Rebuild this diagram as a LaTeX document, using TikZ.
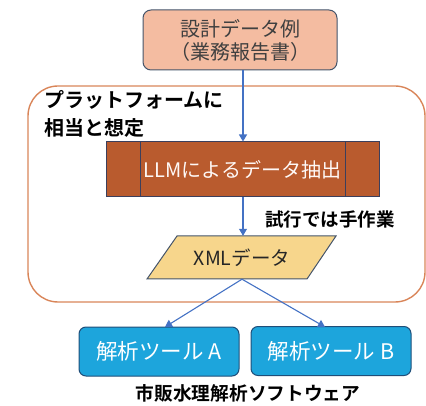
\documentclass[tikz,border=0pt]{standalone}
\usepackage{fontspec}
\newfontfamily\jp{Noto Sans CJK JP}
\newfontfamily\jpb{Noto Sans CJK JP Bold}
\usetikzlibrary{arrows.meta}
\definecolor{salmon}{HTML}{F4BCA1}
\definecolor{slate}{HTML}{44546A}
\definecolor{frameorange}{HTML}{D98559}
\definecolor{rust}{HTML}{B95B2E}
\definecolor{navy}{HTML}{3B3F5C}
\definecolor{sand}{HTML}{F7D68C}
\definecolor{toolblue}{HTML}{1DA5DC}
\definecolor{tooledge}{HTML}{1F4E79}
\definecolor{arrowblue}{HTML}{4472C4}
\tikzset{
  flow/.style={draw=arrowblue, line width=1.1pt, -{Triangle[length=7pt,width=8pt]}},
  toolbox/.style={draw=tooledge, line width=1pt, fill=toolblue, rounded corners=7pt,
    minimum width=160pt, minimum height=49pt, text=white, font=\jp\fontsize{21.5}{24}\selectfont},
  caption/.style={font=\jpb\fontsize{#1}{28}\selectfont, text=black},
  caption/.default=18.5
}
\begin{document}
\begin{tikzpicture}[x=1pt,y=-1pt]
\useasboundingbox (0,0) rectangle (426,406);
% platform frame
\draw[frameorange, line width=1.4pt, rounded corners=30pt] (28,86) rectangle (425,302);
\node[caption=20, anchor=west, align=left, inner sep=0pt] (plat) at (44,114) {プラットフォームに\\相当と想定};
% source document
\node[draw=slate, line width=1pt, fill=salmon, rounded corners=8pt,
  minimum width=194pt, minimum height=60pt, align=center, text=black!75,
  font=\jp\fontsize{20}{23}\selectfont] (src) at (240,40) {設計データ例\\（業務報告書）};
% extraction process
\node[draw=navy, line width=1pt, fill=rust, minimum width=273pt, minimum height=55pt,
  text=white!90!salmon, font=\jp\fontsize{20}{23}\selectfont] (llm) at (242.5,169.5) {LLMによるデータ抽出};
\draw[navy, line width=1pt] (140,142) -- (140,197) (345,142) -- (345,197);
% XML data: parallelogram with its label
\draw[slate, line width=1pt, fill=sand] (177,236) -- (336,236) -- (307,279) -- (147,279) -- cycle;
\node[minimum width=160pt, minimum height=43pt, inner sep=0pt, text=black!85,
  font=\jp\fontsize{19.5}{22}\selectfont] (xml) at (242,257.5) {XMLデータ};
\node[caption, anchor=west, inner sep=0pt] (manual) at (265,219) {試行では手作業};
% analysis tools
\node[toolbox] (ta) at (159,351.5) {解析ツール A};
\node[toolbox] (tb) at (331,351) {解析ツール B};
\node[caption=18.7] (comm) at (248,393) {市販水理解析ソフトウェア};
% connectors
\draw[flow] (src.south -| 243,0) -- (llm.north -| 243,0);
\draw[flow] (llm.south -| 243,0) -- (xml.north -| 243,0);
\draw[flow] (xml.south) -- (165,327) coordinate (ta-in);
\draw[flow] (xml.south) -- (325,327) coordinate (tb-in);
\end{tikzpicture}
\end{document}
